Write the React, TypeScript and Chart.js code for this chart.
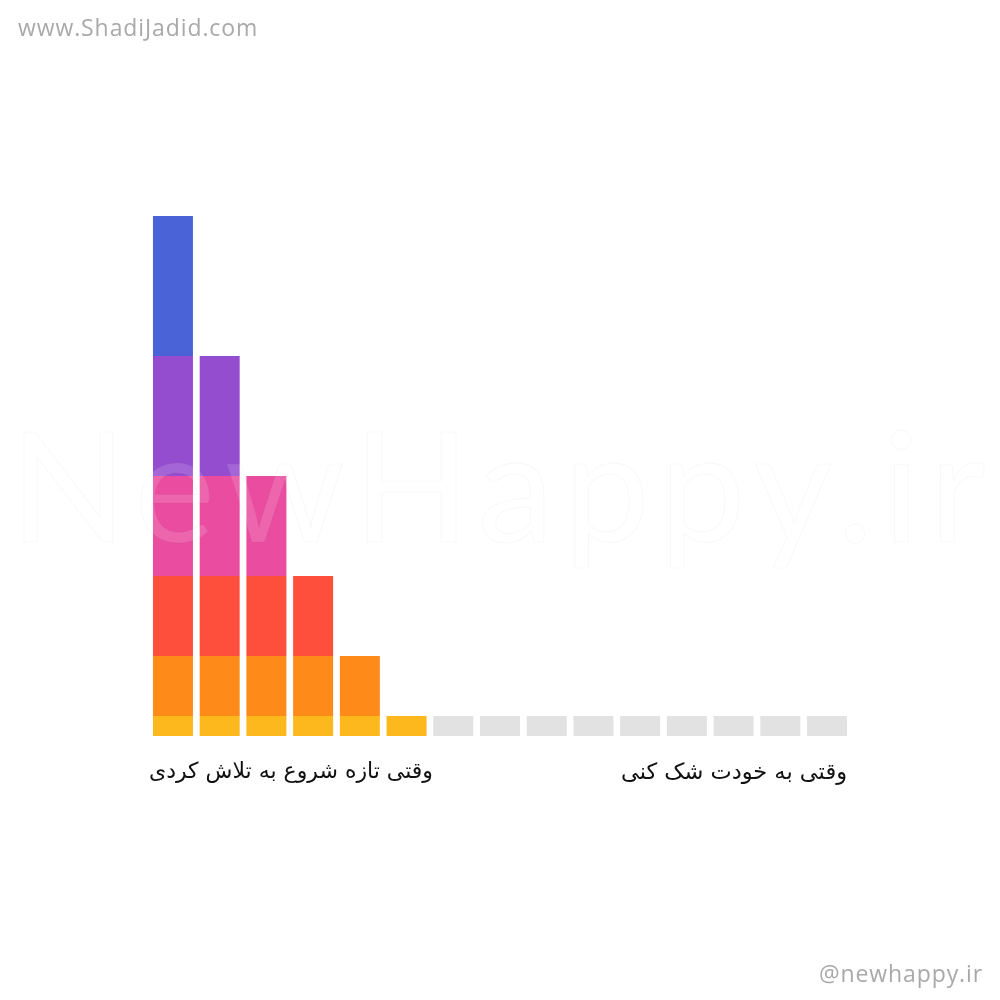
import React, { useEffect, useRef } from "react";
import { Chart, registerables } from "chart.js";

Chart.register(...registerables);

const categories = ["1","2","3","4","5","6","7","8","9","10","11","12","13","14","15"];
const yellowVals = [1, 1, 1, 1, 1, 1, null, null, null, null, null, null, null, null, null];
const grayVals = [null, null, null, null, null, null, 1, 1, 1, 1, 1, 1, 1, 1, 1];
const orangeVals = [3, 3, 3, 3, 3, null, null, null, null, null, null, null, null, null, null];
const redVals = [4, 4, 4, 4, null, null, null, null, null, null, null, null, null, null, null];
const pinkVals = [5, 5, 5, null, null, null, null, null, null, null, null, null, null, null, null];
const purpleVals = [6, 6, null, null, null, null, null, null, null, null, null, null, null, null, null];
const blueVals = [7, null, null, null, null, null, null, null, null, null, null, null, null, null, null];

const leftLabel = "وقتی تازه شروع به تلاش کردی";
const rightLabel = "وقتی به خودت شک کنی";
const topCredit = "www.ShadiJadid.com";
const bottomCredit = "@newhappy.ir";
const watermark = "NewHappy.ir";

export default function App() {
  const canvasRef = useRef<HTMLCanvasElement | null>(null);

  useEffect(() => {
    if (!canvasRef.current) return;
    const mk = (label: string, data: (number | null)[], color: string) => ({
      label,
      data,
      backgroundColor: color,
      borderWidth: 0,
      barPercentage: 1,
      categoryPercentage: 0.856,
    });
    const chart = new Chart(canvasRef.current, {
      type: "bar",
      data: {
        labels: categories,
        datasets: [
          mk("yellow", yellowVals, "#fdb81e"),
          mk("gray", grayVals, "#e2e2e2"),
          mk("orange", orangeVals, "#fe8a1a"),
          mk("red", redVals, "#fe4e3c"),
          mk("pink", pinkVals, "#ea4ca0"),
          mk("purple", purpleVals, "#954dd0"),
          mk("blue", blueVals, "#4a64d8"),
        ],
      },
      options: {
        animation: false,
        responsive: false,
        maintainAspectRatio: false,
        layout: { padding: { left: 149.6, right: 149.6, top: 216, bottom: 264 } },
        plugins: { legend: { display: false }, tooltip: { enabled: false }, title: { display: false } },
        scales: {
          x: { stacked: true, display: false, offset: true },
          y: { stacked: true, display: false, min: 0, max: 26 },
        },
      },
    });
    return () => chart.destroy();
  }, []);

  return (
    <div style={{ position: "absolute", left: 0, top: 0, width: 1000, height: 1000, background: "#ffffff", overflow: "hidden" }}>
      <canvas ref={canvasRef} width={1000} height={1000} style={{ position: "absolute", left: 0, top: 0, width: 1000, height: 1000 }} />
      <div style={{ position: "absolute", left: 18, top: 11, fontFamily: "'Open Sans', sans-serif", fontSize: 23, color: "#a9a9a9", letterSpacing: 0.9 }}>{topCredit}</div>
      <div style={{ position: "absolute", right: 17, top: 957, fontFamily: "'Open Sans', sans-serif", fontSize: 23, color: "#a9a9a9", letterSpacing: 0.9 }}>{bottomCredit}</div>
      <div style={{ position: "absolute", left: 10, top: 391, fontFamily: "Lato, sans-serif", fontSize: 153, letterSpacing: 10, color: "rgba(255,255,255,0.14)", WebkitTextStroke: "1px rgba(0,0,0,0.03)", whiteSpace: "nowrap", pointerEvents: "none" }}>{watermark}</div>
      <div dir="rtl" style={{ position: "absolute", right: 567, top: 758, fontFamily: "'DejaVu Sans', sans-serif", fontSize: 22, color: "#111", whiteSpace: "nowrap" }}>{leftLabel}</div>
      <div dir="rtl" style={{ position: "absolute", right: 153, top: 758, fontFamily: "'DejaVu Sans', sans-serif", fontSize: 22.5, color: "#111", whiteSpace: "nowrap" }}>{rightLabel}</div>
    </div>
  );
}
